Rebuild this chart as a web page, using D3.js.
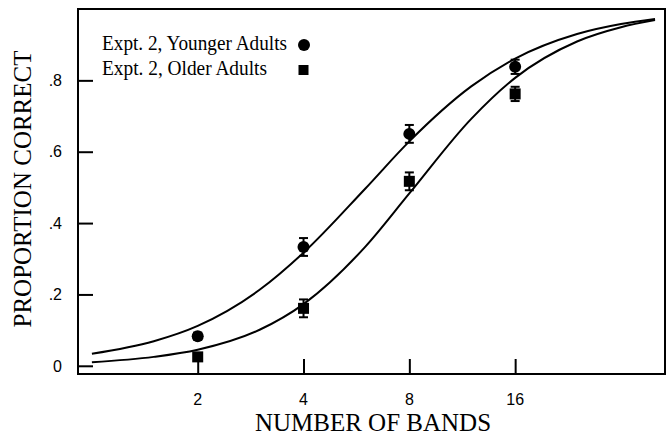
<!DOCTYPE html>
<html>
<head>
<meta charset="utf-8">
<script src="https://cdn.jsdelivr.net/npm/d3@7"></script>
<style>
  html, body { margin: 0; padding: 0; background: #fff; }
  svg { display: block; }
</style>
</head>
<body>
<svg id="chart" width="671" height="434"></svg>
<script>
// Observed proportions correct by number of spectral bands
const bands = [2, 4, 8, 16];
const youngerMean = [0.083, 0.333, 0.650, 0.838];
const youngerSE   = [0.010, 0.025, 0.025, 0.020];
const olderMean   = [0.025, 0.161, 0.517, 0.762];
const olderSE     = [0.010, 0.025, 0.025, 0.020];

// Fitted psychometric curves, sampled along the band axis
const curveBands   = [1, 1.5, 2, 3, 4, 6, 8, 12, 16, 24, 32, 40];
const youngerCurve = [0.034, 0.069, 0.112, 0.213, 0.317, 0.497, 0.629, 0.783, 0.861, 0.930, 0.958, 0.972];
const olderCurve   = [0.010, 0.025, 0.045, 0.101, 0.173, 0.334, 0.483, 0.692, 0.807, 0.909, 0.949, 0.969];

const yTicks = [0, 0.2, 0.4, 0.6, 0.8];
const yTickLabels = ["0", ".2", ".4", ".6", ".8"];
const xTickLabels = ["2", "4", "8", "16"];
const legendLabels = ["Expt. 2, Younger Adults", "Expt. 2, Older Adults"];

const svg = d3.select("#chart");
const plotLeft = 78, plotRight = 665, plotTop = 9, plotBottom = 374;

const x = d3.scaleLog().base(2).domain([0.913, 42.7]).range([plotLeft, plotRight]);
const y = d3.scaleLinear().domain([-0.023, 1.0]).range([plotBottom, plotTop]);

const serif = "'Liberation Serif', 'Times New Roman', Times, serif";
const sans = "'Liberation Sans', Arial, Helvetica, sans-serif";

// Frame
svg.append("rect")
  .attr("x", plotLeft).attr("y", plotTop)
  .attr("width", plotRight - plotLeft).attr("height", plotBottom - plotTop)
  .attr("fill", "none").attr("stroke", "#000").attr("stroke-width", 2);

// Y axis: inward ticks
const yAxis = d3.axisRight(y).tickValues(yTicks).tickSize(15).tickFormat("");
const gy = svg.append("g").attr("transform", `translate(${plotLeft},0)`).call(yAxis);
gy.select(".domain").remove();
gy.selectAll(".tick line").attr("stroke", "#000").attr("stroke-width", 2);

svg.append("g").selectAll("text").data(yTicks).join("text")
  .attr("x", 62).attr("y", d => y(d))
  .attr("dy", "0.36em")
  .attr("text-anchor", "end")
  .attr("font-family", sans).attr("font-size", 16)
  .text((d, i) => yTickLabels[i]);

// X axis: inward ticks
const xAxis = d3.axisTop(x).tickValues(bands).tickSize(15).tickFormat("");
const gx = svg.append("g").attr("transform", `translate(0,${plotBottom})`).call(xAxis);
gx.select(".domain").remove();
gx.selectAll(".tick line").attr("stroke", "#000").attr("stroke-width", 2);

svg.append("g").selectAll("text").data(bands).join("text")
  .attr("x", d => x(d)).attr("y", 404.5)
  .attr("text-anchor", "middle")
  .attr("font-family", sans).attr("font-size", 16)
  .text((d, i) => xTickLabels[i]);

// Axis titles
svg.append("text")
  .attr("x", 373).attr("y", 430.5)
  .attr("text-anchor", "middle")
  .attr("font-family", serif).attr("font-size", 25)
  .text("NUMBER OF BANDS");

svg.append("text")
  .attr("transform", "translate(31,189) rotate(-90)")
  .attr("text-anchor", "middle")
  .attr("font-family", serif).attr("font-size", 25)
  .text("PROPORTION CORRECT");

// Fitted curves
const line = d3.line()
  .x(d => x(d[0])).y(d => y(d[1]))
  .curve(d3.curveMonotoneX);

[youngerCurve, olderCurve].forEach(vals => {
  svg.append("path")
    .attr("d", line(curveBands.map((b, i) => [b, vals[i]])))
    .attr("fill", "none").attr("stroke", "#000").attr("stroke-width", 2);
});

// Error bars
function errorBars(means, ses) {
  const g = svg.append("g").attr("stroke", "#000").attr("stroke-width", 2);
  bands.forEach((b, i) => {
    const cx = x(b), y0 = y(means[i] - ses[i]), y1 = y(means[i] + ses[i]);
    g.append("line").attr("x1", cx).attr("x2", cx).attr("y1", y0).attr("y2", y1);
    g.append("line").attr("x1", cx - 4.5).attr("x2", cx + 4.5).attr("y1", y0).attr("y2", y0);
    g.append("line").attr("x1", cx - 4.5).attr("x2", cx + 4.5).attr("y1", y1).attr("y2", y1);
  });
}
errorBars(youngerMean, youngerSE);
errorBars(olderMean, olderSE);

// Markers
svg.append("g").selectAll("circle").data(bands).join("circle")
  .attr("cx", d => x(d)).attr("cy", (d, i) => y(youngerMean[i]))
  .attr("r", 6).attr("fill", "#000");

const sq = 11;
svg.append("g").selectAll("rect").data(bands).join("rect")
  .attr("x", d => x(d) - sq / 2).attr("y", (d, i) => y(olderMean[i]) - sq / 2)
  .attr("width", sq).attr("height", sq).attr("fill", "#000");

// Legend
const legend = svg.append("g");
legend.append("text")
  .attr("x", 102).attr("y", 50)
  .attr("font-family", serif).attr("font-size", 20)
  .attr("textLength", 185).attr("lengthAdjust", "spacingAndGlyphs")
  .text(legendLabels[0]);
legend.append("text")
  .attr("x", 102).attr("y", 75)
  .attr("font-family", serif).attr("font-size", 20)
  .attr("textLength", 165).attr("lengthAdjust", "spacingAndGlyphs")
  .text(legendLabels[1]);
legend.append("circle").attr("cx", 304).attr("cy", 45).attr("r", 6).attr("fill", "#000");
legend.append("rect").attr("x", 298.5).attr("y", 65).attr("width", 10).attr("height", 10).attr("fill", "#000");
</script>
</body>
</html>
